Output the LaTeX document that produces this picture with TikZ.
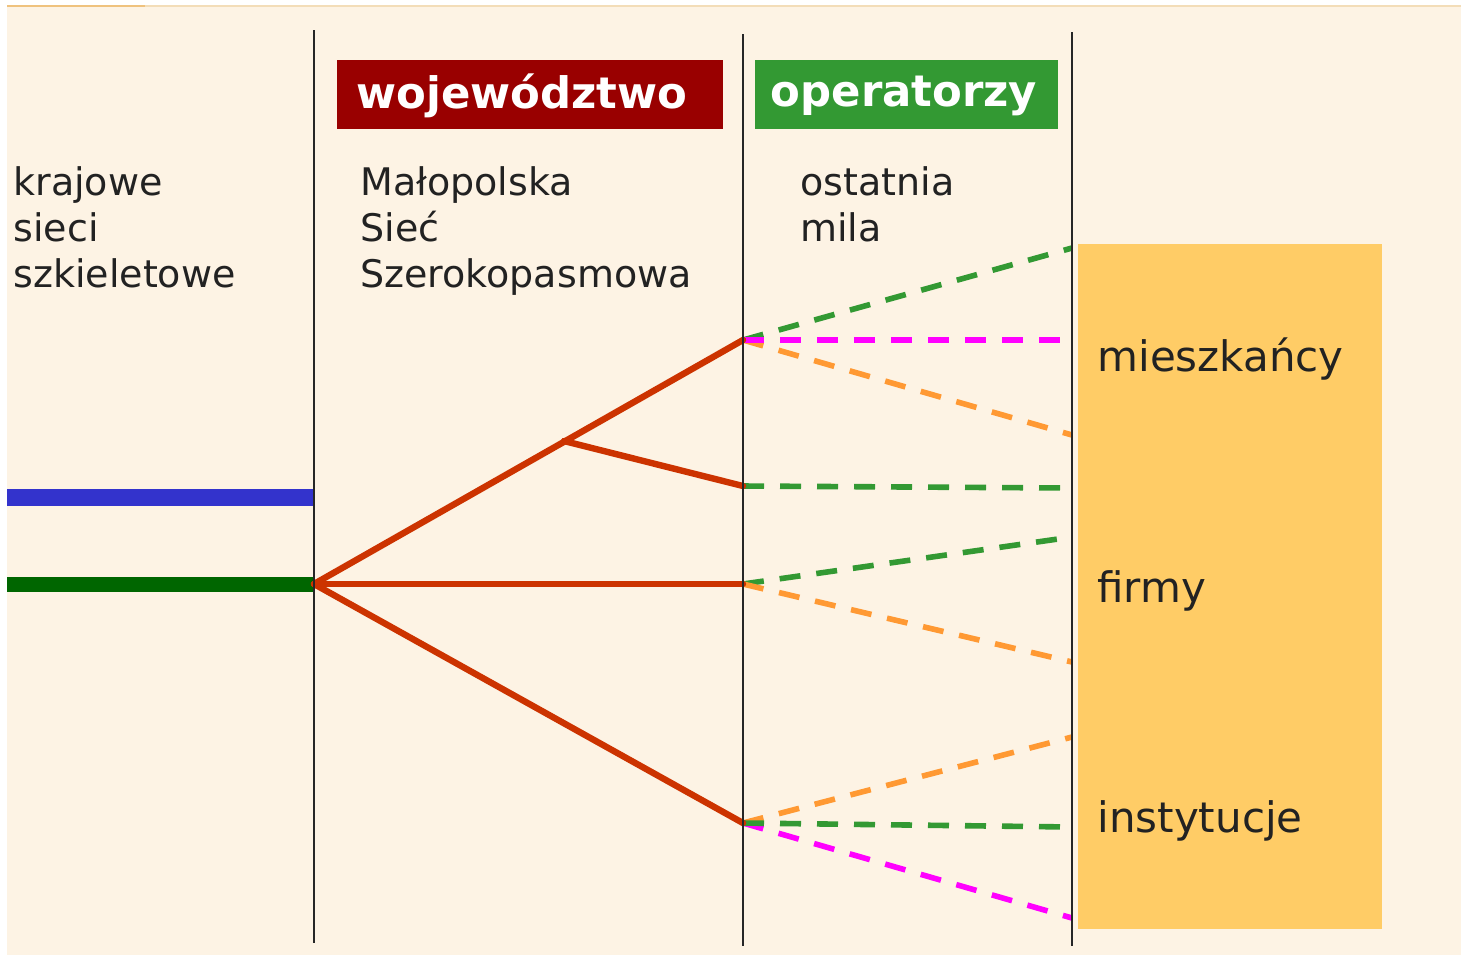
\documentclass[tikz,border=0pt]{standalone}
\usepackage{fontspec}
\setmainfont{DejaVu Sans}
\definecolor{bgc}{HTML}{FDF3E4}
\definecolor{topc}{HTML}{F3DDB8}
\definecolor{topo}{HTML}{EFC27E}
\definecolor{redbox}{HTML}{990000}
\definecolor{greenbox}{HTML}{339933}
\definecolor{bluel}{HTML}{3333CC}
\definecolor{greenl}{HTML}{006600}
\definecolor{redl}{HTML}{CC3300}
\definecolor{dgreen}{HTML}{339933}
\definecolor{dorange}{HTML}{FF9933}
\definecolor{dmag}{HTML}{FF00FF}
\definecolor{target}{HTML}{FFCC66}
\definecolor{txt}{HTML}{222222}
\tikzset{
  sep/.style={draw=black!85, line width=1.2pt},
  trunk/.style={line width=3.2pt, draw=redl, line cap=round},
  dl/.style={line width=2.8pt, dash pattern=on 10.5pt off 8pt},
  lab/.style={anchor=base west, inner sep=0pt, text=txt, font=\fontsize{19}{23}\selectfont},
  biglab/.style={anchor=base west, inner sep=0pt, text=txt, font=\fontsize{21}{25}\selectfont},
  head/.style={inner sep=0pt, text=white, font=\bfseries\fontsize{21.7}{25}\selectfont},
}
\begin{document}
\begin{tikzpicture}[x=0.5pt,y=-0.5pt]
\useasboundingbox (0,0) rectangle (1465,955);
\fill[white] (0,0) rectangle (1465,955);
\fill[bgc] (7,5) rectangle (1461,955);
\fill[topc] (7,5) rectangle (1461,7);
\fill[topo] (7,5) rectangle (145,7);
% target box
\fill[target] (1078,244) rectangle (1382,929);
% header boxes
\fill[redbox] (337,60) rectangle (723,129);
\fill[greenbox] (755,60) rectangle (1058,129);
\node[head] (hw) at (522,96) {województwo};
\node[head] (ho) at (904,96) {operatorzy};
% separators
\coordinate (s1t) at (314,30); \coordinate (s1b) at (314,943);
\coordinate (s2t) at (743,34); \coordinate (s2b) at (743,946);
\coordinate (s3t) at (1072,32); \coordinate (s3b) at (1072,946);
% backbone
\coordinate (bl) at (7,497); \coordinate (br) at (314,497);
\coordinate (gl) at (7,584); \coordinate (hub) at (314,584);
\draw[line width=8.5pt, bluel] (bl) -- (br);
\draw[line width=7.5pt, greenl] (gl) -- (hub);
% regional network nodes
\coordinate (n1) at (743,340);
\coordinate (mid) at (564,441);
\coordinate (n2) at (743,486);
\coordinate (n3) at (743,584);
\coordinate (n4) at (743,823);
% last mile ends
\coordinate (e1) at (1072,248);
\coordinate (e2) at (1072,340);
\coordinate (e3) at (1072,435);
\coordinate (e4) at (1072,488);
\coordinate (e5) at (1072,537);
\coordinate (e6) at (1072,662);
\coordinate (e7) at (1072,737);
\coordinate (e8) at (1072,827);
\coordinate (e9) at (1072,918);
\draw[dl, dgreen] (n1) -- (e1);
\draw[dl, dorange] (n1) -- (e3);
\draw[dl, dmag] (n1) -- (e2);
\draw[dl, dgreen] (n2) -- (e4);
\draw[dl, dgreen] (n3) -- (e5);
\draw[dl, dorange] (n3) -- (e6);
\draw[dl, dorange] (n4) -- (e7);
\draw[dl, dmag] (n4) -- (e9);
\draw[dl, dgreen] (n4) -- (e8);
\draw[trunk] (hub) -- (n1);
\draw[trunk] (mid) -- (n2);
\draw[trunk] (hub) -- (n3);
\draw[trunk] (hub) -- (n4);
\draw[sep] (s1t) -- (s1b);
\draw[sep] (s2t) -- (s2b);
\draw[sep] (s3t) -- (s3b);
% labels
\node[lab] (k1) at (13,195) {krajowe};
\node[lab] (k2) at (13,241) {sieci};
\node[lab] (k3) at (13,287) {szkieletowe};
\node[lab] (m1) at (360,195) {Małopolska};
\node[lab] (m2) at (360,241) {Sieć};
\node[lab] (m3) at (360,287) {Szerokopasmowa};
\node[lab] (o1) at (800,195) {ostatnia};
\node[lab] (o2) at (800,241) {mila};
\node[biglab] (t1) at (1097,371) {mieszkańcy};
\node[biglab] (t2) at (1097,602) {firmy};
\node[biglab] (t3) at (1097,832) {instytucje};
\end{tikzpicture}
\end{document}
